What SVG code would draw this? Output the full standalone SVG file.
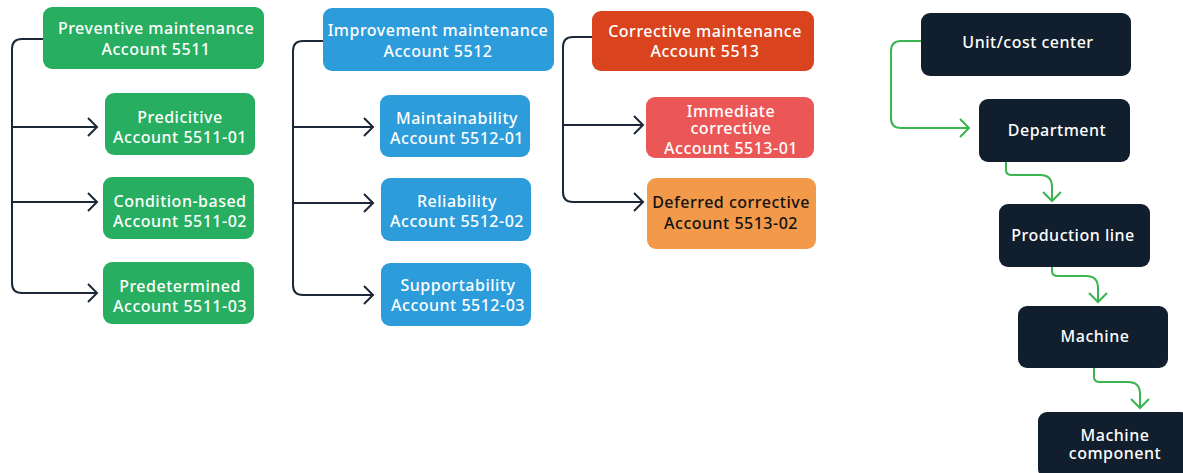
<svg xmlns="http://www.w3.org/2000/svg" width="1183" height="473" viewBox="0 0 1183 473">
<style>
text{font-family:"Noto Sans","Lato",sans-serif;font-size:16px;font-weight:500;fill:#fff;text-anchor:middle;letter-spacing:0.5px}
.g{fill:#27ae60}.b{fill:#2d9cdb}.r{fill:#d9441f}.lr{fill:#eb5757}.o{fill:#f2994a}.d{fill:#101e2d}
.dk{fill:#111}
.c{fill:none;stroke:#1c2837;stroke-width:2}
.cg{fill:none;stroke:#3ab54f;stroke-width:2}
</style>
<defs>
<marker id="a" markerUnits="userSpaceOnUse" viewBox="-11 -11 13 22" refX="0" refY="0" markerWidth="13" markerHeight="22" orient="auto"><path d="M-9,-9 L0,0 L-9,9" fill="none" stroke="#1c2837" stroke-width="2"/></marker>
<marker id="ag" markerUnits="userSpaceOnUse" viewBox="-11 -11 13 22" refX="0" refY="0" markerWidth="13" markerHeight="22" orient="auto"><path d="M-9,-9 L0,0 L-9,9" fill="none" stroke="#3ab54f" stroke-width="2"/></marker>
</defs>
<g id="connectors">
<path class="c" d="M43,39 H22 Q12,39 12,49 V283 Q12,293 22,293 H97" marker-end="url(#a)"/>
<path class="c" d="M12,127 H97" marker-end="url(#a)"/>
<path class="c" d="M12,202 H97" marker-end="url(#a)"/>
<path class="c" d="M323,41 H303 Q293,41 293,51 V285 Q293,295 303,295 H373" marker-end="url(#a)"/>
<path class="c" d="M293,127 H373" marker-end="url(#a)"/>
<path class="c" d="M293,203 H373" marker-end="url(#a)"/>
<path class="c" d="M592,37 H573 Q563,37 563,47 V192 Q563,202 573,202 H643" marker-end="url(#a)"/>
<path class="c" d="M563,125 H643" marker-end="url(#a)"/>
<path class="cg" d="M921,41 H901 Q891,41 891,51 V118 Q891,128 901,128 H969" marker-end="url(#ag)"/>
<path class="cg" d="M1006,162 V170 Q1006,175 1012,175 H1040 Q1052,175 1052,187 V201" marker-end="url(#ag)"/>
<path class="cg" d="M1052,267 V271 Q1052,276 1058,276 H1086 Q1098,276 1098,288 V302" marker-end="url(#ag)"/>
<path class="cg" d="M1094,368 V377 Q1094,382 1100,382 H1128 Q1140,382 1140,394 V408" marker-end="url(#ag)"/>
</g>
<g id="preventive"><rect class="g" x="43" y="7" width="221" height="62" rx="9"/><text x="156" y="34">Preventive maintenance</text><text x="156" y="55">Account 5511</text></g>
<g id="predictive"><rect class="g" x="105" y="93" width="150" height="62" rx="9"/><text x="180" y="123">Predicitive</text><text x="180" y="143">Account 5511-01</text></g>
<g id="condition"><rect class="g" x="103" y="177" width="151" height="62" rx="9"/><text x="180" y="207">Condition-based</text><text x="180" y="227">Account 5511-02</text></g>
<g id="predetermined"><rect class="g" x="103" y="262" width="151" height="62" rx="9"/><text x="180" y="292">Predetermined</text><text x="180" y="312">Account 5511-03</text></g>
<g id="improvement"><rect class="b" x="323" y="8" width="231" height="63" rx="9"/><text x="438" y="36">Improvement maintenance</text><text x="438" y="57">Account 5512</text></g>
<g id="maintainability"><rect class="b" x="380" y="95" width="150" height="62" rx="9"/><text x="457" y="124">Maintainability</text><text x="457" y="144">Account 5512-01</text></g>
<g id="reliability"><rect class="b" x="381" y="178" width="150" height="63" rx="9"/><text x="457" y="207">Reliability</text><text x="457" y="227">Account 5512-02</text></g>
<g id="supportability"><rect class="b" x="381" y="263" width="150" height="63" rx="9"/><text x="458" y="291">Supportability</text><text x="458" y="311">Account 5512-03</text></g>
<g id="corrective"><rect class="r" x="592" y="11" width="222" height="60" rx="9"/><text x="705" y="37">Corrective maintenance</text><text x="705" y="57">Account 5513</text></g>
<g id="immediate"><rect class="lr" x="646" y="97" width="168" height="61" rx="9"/><text x="731" y="117">Immediate</text><text x="731" y="134">corrective</text><text x="731" y="154">Account 5513-01</text></g>
<g id="deferred"><rect class="o" x="647" y="178" width="169" height="71" rx="9"/><text class="dk" x="731" y="208">Deferred corrective</text><text class="dk" x="731" y="229">Account 5513-02</text></g>
<g id="unit"><rect class="d" x="921" y="13" width="210" height="63" rx="9"/><text x="1028" y="48">Unit/cost center</text></g>
<g id="department"><rect class="d" x="979" y="99" width="151" height="63" rx="9"/><text x="1057" y="136">Department</text></g>
<g id="production"><rect class="d" x="999" y="204" width="151" height="63" rx="9"/><text x="1073" y="241">Production line</text></g>
<g id="machine"><rect class="d" x="1018" y="306" width="150" height="62" rx="9"/><text x="1095" y="342">Machine</text></g>
<g id="component"><rect class="d" x="1038" y="412" width="152" height="66" rx="9"/><text x="1115" y="441">Machine</text><text x="1115" y="459">component</text></g>
</svg>
